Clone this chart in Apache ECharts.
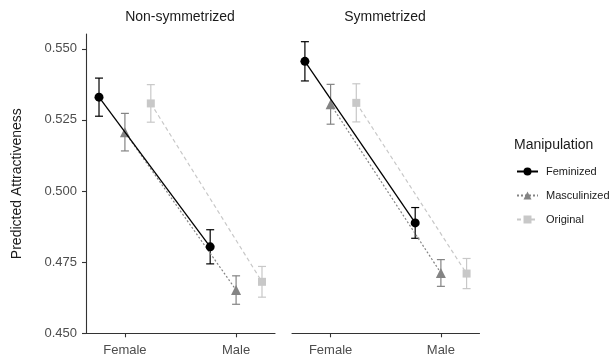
<!DOCTYPE html>
<html>
<head>
<meta charset="utf-8">
<script src="https://cdn.jsdelivr.net/npm/echarts@6/dist/echarts.min.js"></script>
<style>
  html, body { margin: 0; padding: 0; background: #fff; }
  #chart { width: 613px; height: 362px; }
</style>
</head>
<body>
<div id="chart"></div>
<script>
(function() {
// data
const panels = ['Non-symmetrized', 'Symmetrized'];
const sexes = ['Female', 'Male'];
const manipulations = ['Feminized', 'Masculinized', 'Original'];

// means per manipulation: [Female, Male]
const nonSymMeans = [[0.5330, 0.4804], [0.5207, 0.4652], [0.5308, 0.4681]];
const nonSymErrors = [[0.0067, 0.0060], [0.0066, 0.0050], [0.0066, 0.0054]];
const symMeans = [[0.5456, 0.4888], [0.5305, 0.4712], [0.5310, 0.4710]];
const symErrors = [[0.0069, 0.0054], [0.0070, 0.0047], [0.0067, 0.0053]];

const yTicks = [0.45, 0.475, 0.5, 0.525, 0.55];

const FONT = '"Liberation Sans", Arial, Helvetica, sans-serif';
const colors = ['#000000', '#848484', '#c8c8c8'];
const lineTypes = ['solid', [2, 2], [4, 3]];
const symbols = ['circle', 'triangle', 'rect'];
const symbolSizes = [9, 10, 8];
const dodge = [-0.233, 0, 0.233];

const panelMeans = [nonSymMeans, symMeans];
const panelErrors = [nonSymErrors, symErrors];

const grids = [
    { left: 86, top: 34, width: 189, height: 299.3 },
    { left: 292, top: 34, width: 187.5, height: 299.3 }
];

const xAxes = panels.map((p, i) => ({
    type: 'value',
    gridIndex: i,
    min: 0.65,
    max: 2.35,
    splitLine: { show: false },
    axisLine: { show: true, onZero: false, lineStyle: { color: '#333333', width: 1.1 } },
    axisTick: { show: true, length: 4, customValues: [1, 2], lineStyle: { color: '#333333', width: 1.1 } },
    axisLabel: {
        customValues: [1, 2],
        margin: 11,
        fontSize: 13,
        fontFamily: FONT,
        color: '#4d4d4d',
        formatter: (v) => sexes[Math.round(v) - 1] || ''
    }
}));

const yAxes = panels.map((p, i) => ({
    type: 'value',
    gridIndex: i,
    min: 0.45,
    max: 0.5552,
    name: i === 0 ? 'Predicted Attractiveness' : '',
    nameLocation: 'middle',
    nameGap: 62,
    nameTextStyle: { fontSize: 14, fontFamily: FONT, color: '#1a1a1a' },
    splitLine: { show: false },
    axisLine: { show: i === 0, lineStyle: { color: '#333333', width: 1.1 } },
    axisTick: { show: i === 0, length: 4, customValues: yTicks, lineStyle: { color: '#333333', width: 1.1 } },
    axisLabel: {
        show: i === 0,
        customValues: yTicks,
        margin: 9,
        fontSize: 13,
        fontFamily: FONT,
        color: '#4d4d4d',
        formatter: (v) => v.toFixed(3)
    }
}));

const series = [];
panels.forEach((p, pi) => {
    manipulations.forEach((m, mi) => {
        const means = panelMeans[pi][mi];
        const errs = panelErrors[pi][mi];
        series.push({
            type: 'custom',
            name: m + ' error',
            xAxisIndex: pi,
            yAxisIndex: pi,
            z: 2,
            encode: { x: 0, y: [2, 3] },
            data: sexes.map((s, si) => [si + 1 + dodge[mi], means[si], means[si] - errs[si], means[si] + errs[si]]),
            renderItem: (params, api) => {
                const x = api.value(0);
                const top = api.coord([x, api.value(3)]);
                const bot = api.coord([x, api.value(2)]);
                const hw = 4;
                const style = { stroke: colors[mi], lineWidth: 1.2 };
                return {
                    type: 'group',
                    children: [
                        { type: 'line', shape: { x1: top[0], y1: top[1], x2: bot[0], y2: bot[1] }, style },
                        { type: 'line', shape: { x1: top[0] - hw, y1: top[1], x2: top[0] + hw, y2: top[1] }, style },
                        { type: 'line', shape: { x1: bot[0] - hw, y1: bot[1], x2: bot[0] + hw, y2: bot[1] }, style }
                    ]
                };
            },
            silent: true
        });
        series.push({
            type: 'line',
            name: m,
            xAxisIndex: pi,
            yAxisIndex: pi,
            z: 3 + (2 - mi),
            data: sexes.map((s, si) => [si + 1 + dodge[mi], means[si]]),
            symbol: symbols[mi],
            symbolSize: symbolSizes[mi],
            showAllSymbol: true,
            itemStyle: { color: colors[mi], opacity: 1 },
            lineStyle: { color: colors[mi], width: mi === 0 ? 1.3 : 1.2, type: lineTypes[mi] },
            emphasis: { disabled: true },
            animation: false
        });
    });
});

const option = {
    animation: false,
    grid: grids,
    xAxis: xAxes,
    yAxis: yAxes,
    legend: {
        data: manipulations,
        orient: 'vertical',
        left: 516,
        top: 166,
        padding: 0,
        itemWidth: 21,
        itemHeight: 10,
        itemGap: 13,
        selectedMode: false,
        textStyle: { fontSize: 11, fontFamily: FONT, color: '#1a1a1a', padding: [0, 0, 0, 3] }
    },
    graphic: [
        { type: 'text', x: 180, y: 17, style: { text: panels[0], font: '14px ' + FONT, fill: '#1a1a1a', textAlign: 'center', textVerticalAlign: 'middle' } },
        { type: 'text', x: 385, y: 17, style: { text: panels[1], font: '14px ' + FONT, fill: '#1a1a1a', textAlign: 'center', textVerticalAlign: 'middle' } },
        { type: 'text', x: 514, y: 145, style: { text: 'Manipulation', font: '14px ' + FONT, fill: '#1a1a1a', textAlign: 'left', textVerticalAlign: 'middle' } }
    ],
    series: series
};

const chart = echarts.init(document.getElementById('chart'));
chart.setOption(option);
window.addEventListener('resize', () => chart.resize());
})();
</script>
</body>
</html>
